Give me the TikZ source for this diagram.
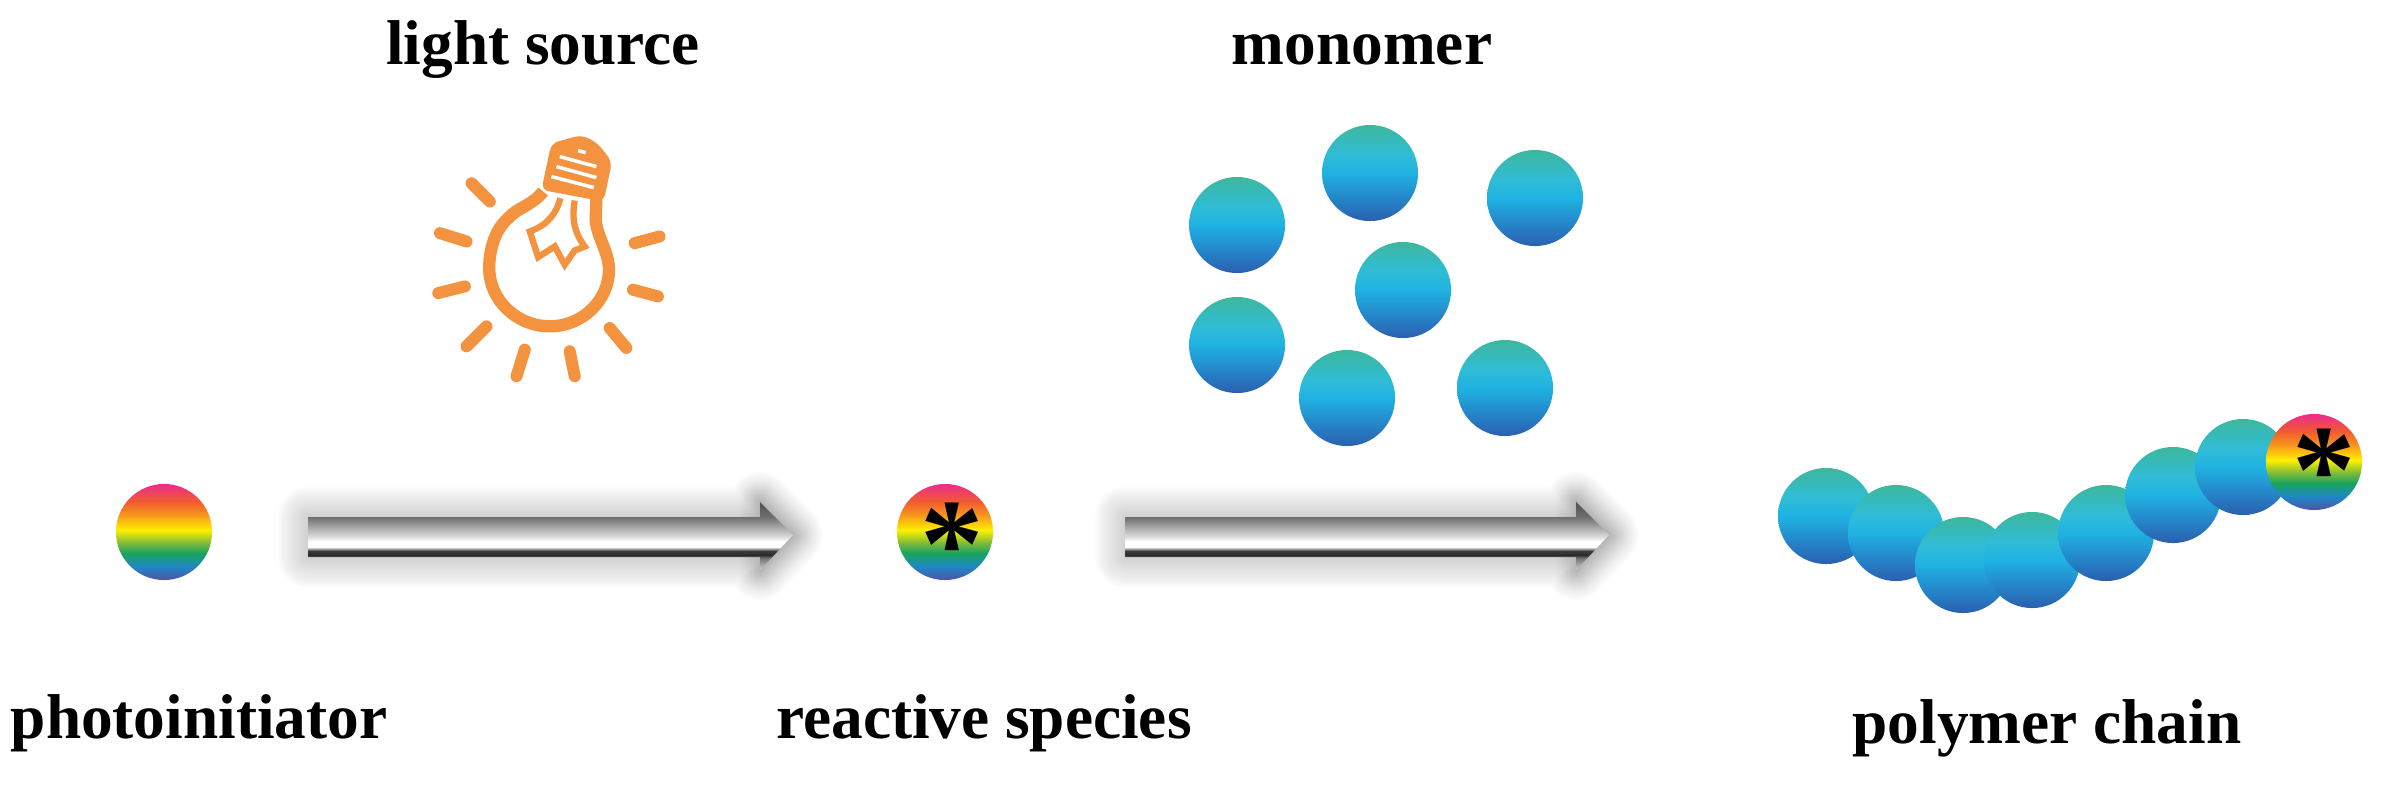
\documentclass[tikz,border=0pt]{standalone}
\usepackage{fontspec}
\setmainfont{Liberation Serif}
\usetikzlibrary{calc}
\definecolor{bulb}{HTML}{F4933F}
\definecolor{ra}{HTML}{4F55A6}\definecolor{rb}{HTML}{1F86C6}\definecolor{rc}{HTML}{18A45C}\definecolor{rd}{HTML}{79B83C}
\definecolor{re}{HTML}{FFF000}\definecolor{rf}{HTML}{F7941D}\definecolor{rg}{HTML}{F15A30}\definecolor{rh}{HTML}{EC2B8F}
\definecolor{ma}{HTML}{2B5FAE}\definecolor{mb}{HTML}{2583C8}\definecolor{mc}{HTML}{1FB2E2}\definecolor{md}{HTML}{2FBCD8}\definecolor{me}{HTML}{3DB89C}
\definecolor{aa}{HTML}{D0D0D0}\definecolor{ab}{HTML}{707070}\definecolor{ac}{HTML}{2A2A2A}\definecolor{ad}{HTML}{3A3A3A}
\definecolor{ae}{HTML}{FFFFFF}\definecolor{af}{HTML}{D8D8D8}\definecolor{ag}{HTML}{6E6E6E}\definecolor{ah}{HTML}{505050}
\pgfdeclareverticalshading{rainbow}{100bp}{
 color(0bp)=(ra); color(25bp)=(ra); color(32bp)=(rb); color(39bp)=(rc); color(44bp)=(rd);
 color(51bp)=(re); color(59bp)=(rf); color(66bp)=(rg); color(75bp)=(rh); color(100bp)=(rh)}
\pgfdeclareverticalshading{bluemono}{100bp}{
 color(0bp)=(ma); color(25bp)=(ma); color(36bp)=(mb); color(50bp)=(mc); color(59bp)=(md); color(75bp)=(me); color(100bp)=(me)}
\pgfdeclareverticalshading{arrowbody}{100bp}{
 color(0bp)=(aa); color(25bp)=(aa); color(34bp)=(ab); color(36bp)=(ac); color(39bp)=(ad);
 color(42bp)=(ae); color(46bp)=(ae); color(50bp)=(af); color(64bp)=(ag); color(75bp)=(ah); color(100bp)=(ah)}
\tikzset{
 ball/.style={circle,minimum size=0.96cm,inner sep=0pt,shade,shading=#1},
 txt/.style={font=\fontsize{18}{20}\selectfont\bfseries,anchor=base,inner sep=0pt,text=black},
 starmark/.style={font=\fontsize{36}{36}\selectfont\bfseries,inner sep=0pt,text=black},
 ray/.style={draw=bulb,line width=3.4pt,line cap=round},
 bulbline/.style={draw=bulb,line width=3.5pt,line join=round},
 filament/.style={draw=bulb,line width=1.8pt,line join=miter},
 glow/.style={draw=black!55,opacity=0.016,line join=round},
}
\newcommand{\blockarrow}[2]{%
 \foreach \w in {3,6,...,60}{
  \draw[glow,line width=\w*0.2845pt] ($(#1)+(0,-18)$) -- ($(#2)+(-33,-18)$) -- ($(#2)+(-33,-33)$) -- (#2) -- ($(#2)+(-33,35)$) -- ($(#2)+(-33,22)$) -- ($(#1)+(0,22)$) -- cycle;
 }
 \foreach \w in {3,6,...,42}{
  \draw[glow,line width=\w*0.2845pt] ($(#2)+(-33,-33)$) -- (#2) -- ($(#2)+(-33,35)$) -- cycle;
 }
 \shade[shading=arrowbody] ($(#1)+(0,-18)$) -- ($(#2)+(-33,-18)$) -- ($(#2)+(-33,-33)$) -- (#2) -- ($(#2)+(-33,35)$) -- ($(#2)+(-33,22)$) -- ($(#1)+(0,22)$) -- cycle;
}
\begin{document}
\begin{tikzpicture}[x=0.01cm,y=-0.01cm]
\useasboundingbox[fill=white] (0,0) rectangle (2383,784);
% labels
\node[txt] (lsrc) at (543,64) {light source};
\node[txt] (lmono) at (1362,64) {monomer};
\node[txt] (lpi) at (199,738) {photoinitiator};
\node[txt] (lrs) at (984,738) {reactive species};
\node[txt] (lpc) at (2047,743) {polymer chain};
% bulb
\begin{scope}[shift={(400,110)},x=0.0033333cm,y=-0.0033333cm]
 \foreach \a/\b/\c/\d in {215/220/270/275,120/370/200/395,115/550/195/530,200/710/260/650,350/800/375/720,525/800/510/725,680/715/630/655,775/560/700/540,705/400/780/380}
  \draw[ray] (\a,\b) -- (\c,\d);
 \draw[bulbline] (430,245) .. controls (400,285) and (350,295) .. (325,325)
  .. controls (285,360) and (268,420) .. (268,475)
  .. controls (268,570) and (350,650) .. (450,650)
  .. controls (550,650) and (628,570) .. (628,480)
  .. controls (628,425) and (588,375) .. (588,325) -- (590,265);
 \fill[bulb,rounded corners=2pt] (425,240) -- (455,100) -- (545,75) -- (592,98) -- (637,155) -- (612,275) -- cycle;
 \draw[white,line width=1pt] (480,140) -- (590,170) (470,170) -- (590,203) (455,200) -- (582,233) (535,122) -- (558,128);
 \draw[filament] (482,265) .. controls (470,310) and (445,345) .. (390,365) -- (415,442) -- (465,410) -- (495,465) -- (525,422) -- (555,410)
  .. controls (525,370) and (515,330) .. (525,272);
\end{scope}
% monomers
\foreach \n/\x/\y in {m1/1237/225,m2/1370/173,m3/1535/198,m4/1403/290,m5/1237/345,m6/1347/398,m7/1505/388}
 \node[ball=bluemono] (\n) at (\x,\y) {};
% initiators
\node[ball=rainbow] (pi) at (164,532) {};
\node[ball=rainbow] (rs) at (945,532) {};
\node[starmark] (rsstar) at (952,545) {*};
% arrows
\coordinate (a1s) at (308,535); \coordinate (a1e) at (793,535);
\coordinate (a2s) at (1125,535); \coordinate (a2e) at (1609,535);
\blockarrow{a1s}{a1e}
\blockarrow{a2s}{a2e}
% chain
\foreach \n/\x/\y in {c1/1826/516,c2/1896/533,c3/1963/565,c4/2032/560,c5/2106/533,c6/2173/495,c7/2243/467}
 \node[ball=bluemono] (\n) at (\x,\y) {};
\node[ball=rainbow] (c8) at (2314,462) {};
\node[starmark] (c8star) at (2324,471) {*};
\end{tikzpicture}
\end{document}
